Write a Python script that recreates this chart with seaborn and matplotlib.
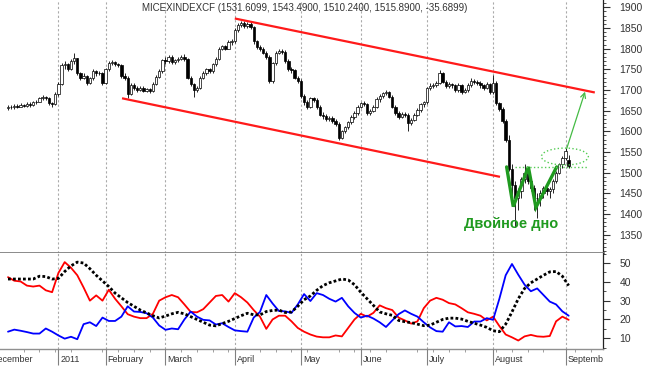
import numpy as np
import matplotlib
matplotlib.use('Agg')
import matplotlib.pyplot as plt
from matplotlib.patches import Ellipse
from matplotlib.ticker import MultipleLocator
import seaborn as sns

# time axis: month names and how many trading days of each are shown
month_labels = ['December', '2011', 'February', 'March', 'April', 'May',
                'June', 'July', 'August', 'September']
month_days = [16, 15, 19, 22, 21, 19, 21, 21, 23, 2]
dec_hidden_days = 6   # first days of december are cut off on the left

# daily OHLC of MICEX index, one list per month
opens = sum([
    [1656, 1660, 1658, 1662, 1660, 1664, 1662, 1666, 1664, 1670, 1672, 1680, 1684, 1680, 1668, 1666],
    [1690, 1715, 1760, 1762, 1750, 1770, 1777, 1740, 1730, 1735, 1718, 1728, 1745, 1740, 1742],
    [1718, 1750, 1765, 1767, 1762, 1760, 1735, 1730, 1690, 1712, 1705, 1700, 1706, 1698, 1702, 1698, 1715, 1732, 1745],
    [1772, 1770, 1780, 1768, 1772, 1776, 1780, 1775, 1730, 1715, 1700, 1705, 1730, 1740, 1750, 1745, 1762, 1775, 1800, 1806, 1800, 1815],
    [1818, 1845, 1858, 1862, 1855, 1860, 1852, 1818, 1805, 1800, 1790, 1780, 1722, 1765, 1790, 1795, 1792, 1770, 1750, 1748, 1730],
    [1722, 1685, 1670, 1660, 1680, 1675, 1660, 1640, 1638, 1630, 1632, 1625, 1618, 1585, 1600, 1610, 1622, 1635, 1645],
    [1660, 1668, 1665, 1645, 1650, 1660, 1678, 1685, 1692, 1694, 1684, 1660, 1645, 1635, 1642, 1640, 1620, 1628, 1640, 1652, 1665],
    [1670, 1705, 1710, 1712, 1718, 1740, 1720, 1710, 1715, 1712, 1700, 1712, 1695, 1700, 1712, 1722, 1720, 1718, 1712, 1706, 1715],
    [1695, 1718, 1668, 1655, 1625, 1580, 1510, 1470, 1440, 1455, 1485, 1500, 1480, 1462, 1440, 1438, 1452, 1462, 1455, 1460, 1480, 1500, 1520],
    [1535, 1531.61],
], [])
highs = sum([
    [1664, 1664, 1666, 1665, 1668, 1667, 1670, 1670, 1674, 1676, 1684, 1688, 1686, 1682, 1672, 1694],
    [1720, 1765, 1770, 1766, 1774, 1789, 1778, 1744, 1740, 1737, 1732, 1750, 1748, 1746, 1744],
    [1754, 1770, 1772, 1770, 1766, 1764, 1740, 1734, 1716, 1716, 1710, 1710, 1710, 1706, 1706, 1719, 1736, 1750, 1776],
    [1780, 1784, 1784, 1776, 1780, 1784, 1786, 1778, 1734, 1718, 1710, 1734, 1745, 1754, 1754, 1766, 1780, 1804, 1810, 1808, 1820, 1824],
    [1850, 1862, 1868, 1866, 1864, 1864, 1856, 1822, 1810, 1804, 1795, 1784, 1768, 1794, 1800, 1800, 1796, 1774, 1756, 1752, 1734],
    [1726, 1690, 1676, 1684, 1684, 1680, 1664, 1646, 1642, 1638, 1636, 1630, 1622, 1604, 1614, 1626, 1640, 1650, 1664],
    [1672, 1674, 1668, 1654, 1664, 1682, 1690, 1696, 1700, 1698, 1688, 1664, 1650, 1646, 1646, 1644, 1632, 1644, 1656, 1668, 1674],
    [1708, 1716, 1716, 1722, 1748, 1744, 1724, 1720, 1718, 1714, 1716, 1714, 1704, 1716, 1730, 1726, 1724, 1722, 1714, 1720, 1718],
    [1736, 1722, 1672, 1660, 1630, 1590, 1520, 1480, 1462, 1490, 1520, 1504, 1486, 1470, 1450, 1458, 1468, 1472, 1466, 1484, 1504, 1524, 1540],
    [1560, 1543.49],
], [])
lows = sum([
    [1652, 1654, 1655, 1656, 1658, 1658, 1660, 1660, 1662, 1666, 1670, 1676, 1676, 1664, 1660, 1664],
    [1686, 1712, 1752, 1745, 1748, 1764, 1736, 1724, 1726, 1712, 1714, 1724, 1734, 1736, 1712],
    [1714, 1746, 1760, 1758, 1756, 1730, 1724, 1681, 1688, 1700, 1696, 1698, 1694, 1694, 1692, 1694, 1712, 1728, 1742],
    [1764, 1766, 1764, 1764, 1768, 1772, 1770, 1726, 1710, 1683, 1696, 1702, 1726, 1736, 1740, 1742, 1758, 1772, 1796, 1796, 1798, 1810],
    [1814, 1840, 1852, 1850, 1850, 1848, 1812, 1800, 1794, 1786, 1774, 1716, 1718, 1760, 1786, 1786, 1766, 1746, 1740, 1726, 1716],
    [1680, 1664, 1654, 1656, 1670, 1654, 1636, 1630, 1624, 1626, 1620, 1612, 1579, 1582, 1596, 1606, 1618, 1630, 1640],
    [1656, 1662, 1640, 1640, 1646, 1656, 1672, 1680, 1688, 1680, 1656, 1640, 1630, 1632, 1634, 1602, 1616, 1624, 1636, 1648, 1660],
    [1666, 1700, 1704, 1708, 1714, 1716, 1704, 1706, 1706, 1696, 1696, 1690, 1692, 1696, 1708, 1714, 1712, 1706, 1700, 1702, 1690],
    [1690, 1664, 1650, 1620, 1575, 1505, 1440, 1368, 1410, 1440, 1476, 1472, 1455, 1410, 1390, 1420, 1440, 1446, 1440, 1450, 1476, 1496, 1512],
    [1530, 1510.24],
], [])
closes = sum([
    [1660, 1658, 1662, 1660, 1664, 1662, 1666, 1664, 1670, 1672, 1680, 1684, 1680, 1668, 1666, 1690],
    [1715, 1760, 1762, 1750, 1770, 1777, 1740, 1730, 1735, 1718, 1728, 1745, 1740, 1742, 1718],
    [1750, 1765, 1767, 1762, 1760, 1735, 1730, 1690, 1712, 1705, 1700, 1706, 1698, 1702, 1698, 1715, 1732, 1745, 1772],
    [1770, 1780, 1768, 1772, 1776, 1780, 1775, 1730, 1715, 1700, 1705, 1730, 1740, 1750, 1745, 1762, 1775, 1800, 1806, 1800, 1815, 1818],
    [1845, 1858, 1862, 1855, 1860, 1852, 1818, 1805, 1800, 1790, 1780, 1722, 1765, 1790, 1795, 1792, 1770, 1750, 1748, 1730, 1722],
    [1685, 1670, 1660, 1680, 1675, 1660, 1640, 1638, 1630, 1632, 1625, 1618, 1585, 1600, 1610, 1622, 1635, 1645, 1660],
    [1668, 1665, 1645, 1650, 1660, 1678, 1685, 1692, 1694, 1684, 1660, 1645, 1635, 1642, 1640, 1620, 1628, 1640, 1652, 1665, 1670],
    [1705, 1710, 1712, 1718, 1740, 1720, 1710, 1715, 1712, 1700, 1712, 1695, 1700, 1712, 1722, 1720, 1718, 1712, 1706, 1715, 1695],
    [1718, 1668, 1655, 1625, 1580, 1510, 1470, 1440, 1455, 1485, 1500, 1480, 1462, 1440, 1438, 1452, 1462, 1455, 1460, 1480, 1500, 1520, 1535],
    [1551.58, 1515.89],
], [])

# DMI / ADX indicator, read every second trading day
di_step = 2
di_plus = [42.5, 40.6, 40.2, 38.0, 37.5, 38.0, 35.5, 34.5, 44.7, 50.5,
           47.5, 43.5, 37.0, 30.0, 32.8, 30.0, 35.8, 31.0, 27.0, 22.8,
           21.5, 20.7, 20.7, 23.0, 30.0, 31.8, 33.0, 31.8, 28.0, 24.0,
           23.8, 25.5, 29.0, 32.5, 33.0, 29.5, 34.0, 31.8, 29.0, 25.0,
           21.5, 15.0, 20.0, 22.0, 22.0, 19.0, 15.5, 13.5, 12.0, 10.9,
           10.5, 10.5, 11.5, 11.0, 15.5, 20.0, 23.0, 21.5, 23.5, 27.5,
           26.0, 25.0, 21.0, 19.5, 17.8, 19.0, 26.0, 30.0, 31.5, 30.5,
           28.7, 28.0, 26.0, 23.8, 23.0, 22.0, 19.5, 21.5, 16.5, 12.0,
           10.5, 8.8, 11.0, 11.8, 11.0, 10.8, 11.2, 19.0, 21.5, 19.8]
di_minus = [13.5, 14.6, 14.0, 13.3, 12.5, 12.5, 15.2, 13.5, 11.5, 9.8,
            10.8, 9.5, 17.5, 18.5, 16.5, 21.0, 19.2, 19.2, 21.5, 27.0,
            24.2, 24.0, 23.3, 21.0, 16.8, 14.5, 15.2, 14.8, 20.0, 24.2,
            21.5, 19.8, 19.5, 17.3, 18.0, 16.0, 14.2, 13.8, 13.5, 21.0,
            24.0, 33.0, 28.5, 24.5, 24.3, 23.5, 28.0, 33.5, 29.8, 34.0,
            33.0, 31.0, 29.5, 31.5, 27.0, 23.5, 21.0, 22.0, 20.5, 18.5,
            16.0, 19.5, 22.8, 24.8, 23.0, 21.5, 18.5, 15.8, 13.8, 13.5,
            18.5, 16.3, 16.5, 16.0, 18.9, 18.9, 20.7, 19.8, 31.0, 43.5,
            49.5, 43.8, 38.5, 35.0, 36.5, 33.0, 29.5, 28.0, 24.3, 22.0]
adx = [41.5, 41.5, 41.5, 41.5, 41.5, 43.0, 42.8, 41.5, 41.8, 45.5,
       48.5, 50.5, 50.0, 47.0, 43.5, 40.5, 37.5, 34.0, 31.5, 29.0,
       27.0, 25.0, 23.5, 22.0, 20.8, 21.8, 23.0, 23.8, 23.0, 21.5,
       20.0, 18.5, 17.0, 16.6, 17.8, 19.0, 20.5, 22.0, 23.3, 22.5,
       22.4, 24.2, 24.8, 25.0, 23.7, 24.0, 27.0, 30.5, 32.5, 35.5,
       38.0, 39.5, 40.5, 41.5, 41.0, 38.5, 34.5, 31.0, 27.5, 24.0,
       23.0, 22.2, 19.5, 18.8, 18.3, 17.5, 16.7, 17.0, 18.5, 20.0,
       20.7, 20.7, 20.2, 19.0, 18.0, 17.0, 15.8, 14.0, 13.5, 17.5,
       24.0, 31.0, 36.5, 39.5, 41.5, 43.5, 45.3, 45.5, 43.0, 38.0]

# drawn annotations: (trading day, price)
channel_top = [(72, 1873), (186.3, 1694)]
channel_bottom = [(36.2, 1680), (156.2, 1490)]
w_pattern = [(158.3, 1514), (160.4, 1418), (165.2, 1514), (167.6, 1416), (174.2, 1514)]
neckline = [(161, 1514), (184.1, 1514)]
breakout_zone = (176.8, 1539)
target_arrow = [(177.4, 1559), (183.2, 1696)]
pattern_text = 'Двойное дно'
pattern_text_at = (159.6, 1376)
title = 'MICEXINDEXCF (1531.6099, 1543.4900, 1510.2400, 1515.8900, -35.6899)'

sns.set_style('white')
plt.rcParams['font.family'] = ['Liberation Sans', 'DejaVu Sans']

o = np.array(opens, float)
h = np.array(highs, float)
l = np.array(lows, float)
c = np.array(closes, float)
idx = np.arange(len(c))
month_start = np.r_[-dec_hidden_days, np.cumsum(month_days)[:-1]]
di_idx = np.arange(len(adx)) * di_step

xlim = (-2.54, 188.9)
fig = plt.figure(figsize=(6.5, 3.77), dpi=100)
ax_p = fig.add_axes([0, 0.3297, 0.9277, 0.6703])
ax_i = fig.add_axes([0, 0.0743, 0.9277, 0.2554])
ax_d = fig.add_axes([0, 0.0, 0.9277, 0.0743])

for ax in (ax_p, ax_i):
    ax.set_xlim(*xlim)
    for s in month_start:
        ax.axvline(s, color='#aaaaaa', lw=0.8, ls=(0, (2, 2)), zorder=0)
    ax.yaxis.tick_right()
    ax.spines['left'].set_visible(False)
    ax.spines['top'].set_visible(False)
    ax.spines['right'].set_color('#222222')
    ax.spines['right'].set_linewidth(0.9)
    ax.tick_params(axis='y', which='major', length=5, width=0.8, pad=7,
                   labelsize=7.5, labelcolor='#333333', color='#333333', right=True)
    ax.tick_params(axis='y', which='minor', length=2.5, width=0.6, color='#333333', right=True)
    ax.tick_params(axis='x', which='both', bottom=False, labelbottom=False)

# candles
up = c >= o
ax_p.vlines(idx, l, h, color='black', lw=0.6, zorder=2)
body_low = np.minimum(o, c)
body_h = np.maximum(np.abs(c - o), 1.5)
ax_p.bar(idx, body_h, bottom=body_low, width=0.75,
         color=np.where(up, 'white', 'black'), edgecolor='black', linewidth=0.5, zorder=3)

ax_p.set_ylim(1306.5, 1917.7)
ax_p.set_yticks(np.arange(1350, 1901, 50))
ax_p.yaxis.set_minor_locator(MultipleLocator(10))
ax_p.spines['bottom'].set_color('#808080')
ax_p.spines['bottom'].set_linewidth(2)

# channel
for line in (channel_top, channel_bottom):
    xs, ys = zip(*line)
    ax_p.plot(xs, ys, color='#ff1a1a', lw=1.6, zorder=4, solid_capstyle='butt')

# double bottom
wx, wy = zip(*w_pattern)
ax_p.plot(wx, wy, color='#1f9a1f', lw=2.4, zorder=5, solid_joinstyle='miter')
nx, ny = zip(*neckline)
ax_p.plot(nx, ny, color='#55cc55', lw=1.0, ls=':', zorder=5)
ax_p.add_patch(Ellipse(breakout_zone, 14.9, 41, fill=False, edgecolor='#55cc55',
                       lw=1.0, ls=':', zorder=5))
ax_p.annotate('', xy=target_arrow[1], xytext=target_arrow[0],
              arrowprops=dict(arrowstyle='->', color='#44bb44', lw=0.9,
                              shrinkA=0, shrinkB=0, mutation_scale=9), zorder=5)
ax_p.text(*pattern_text_at, pattern_text, ha='center', va='center',
          fontsize=10.5, fontweight='bold', color='#1f9a1f', zorder=6)
fig.text(305 / 650, 1 - 8 / 377, title, ha='center', va='center',
         fontsize=7, color='#333333')

# indicator panel
sns.lineplot(x=di_idx, y=di_plus, ax=ax_i, color='#ff0000', lw=1.3)
sns.lineplot(x=di_idx, y=di_minus, ax=ax_i, color='#0000ff', lw=1.3)
sns.lineplot(x=di_idx, y=adx, ax=ax_i, color='black', lw=2.0, linestyle=(0, (1, 0.8)))
ax_i.set_ylim(4.3, 55.5)
ax_i.set_yticks([10, 20, 30, 40, 50])
ax_i.yaxis.set_minor_locator(MultipleLocator(5))
ax_i.spines['bottom'].set_color('#909090')
ax_i.spines['bottom'].set_linewidth(1)
ax_i.xaxis.set_minor_locator(MultipleLocator(5))
ax_i.tick_params(axis='x', which='minor', bottom=True, length=2.5, width=0.6, color='#909090')
ax_i.set_xlabel('')
ax_i.set_ylabel('')

# date axis labels
ax_d.set_xlim(*xlim)
ax_d.set_ylim(0, 1)
ax_d.set_axis_off()
ax_d.vlines(month_start, 0.43, 1, color='#808080', lw=0.8)
for s, name in zip(month_start, month_labels):
    ax_d.text(s + 0.6, 0.64, name, ha='left', va='center', fontsize=6.5,
              color='#333333', clip_on=True)

fig.savefig('out.png', dpi=100)
